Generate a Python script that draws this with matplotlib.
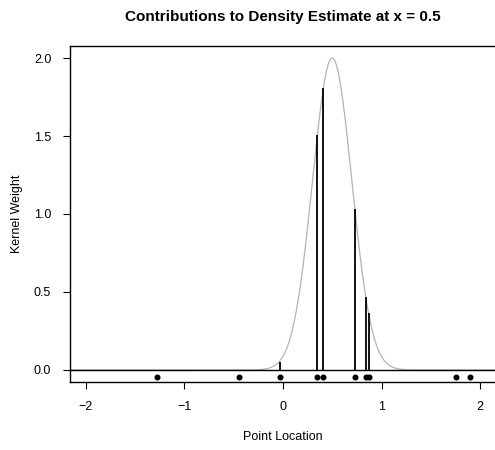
import numpy as np
import matplotlib
matplotlib.use("Agg")
import matplotlib.pyplot as plt

plt.rcParams['font.family'] = ['Liberation Sans', 'DejaVu Sans']

# Data
point_x = [-1.273, -0.447, -0.034, 0.350, 0.411, 0.734, 0.843, 0.873, 1.76, 1.90]
weights = [0.0, 0.0, 0.053, 1.506, 1.806, 1.03, 0.47, 0.363, 0.0, 0.0]
eval_at = 0.5
bandwidth = 0.1995
xticks = [-2, -1, 0, 1, 2]
yticks = [0.0, 0.5, 1.0, 1.5, 2.0]

fig = plt.figure(figsize=(4.95, 4.5), dpi=100)
ax = fig.add_axes([70/495, (450-382.3)/450, 425.5/495, 336.3/450])

grid = np.linspace(-2.5, 2.5, 1001)
kernel = np.exp(-0.5*((grid-eval_at)/bandwidth)**2)/(bandwidth*np.sqrt(2*np.pi))
ax.plot(grid, kernel, color='#b4b4b4', lw=0.9, zorder=1)

ax.axhline(0, color='black', lw=1.0, zorder=2)
ax.vlines(point_x, 0, weights, color='black', lw=1.3, zorder=3)
ax.scatter(point_x, [-0.043]*len(point_x), s=11, color='black', zorder=4)

ax.set_xlim(-2.159, 2.156)
ax.set_ylim(-0.079, 2.077)
ax.set_xticks(xticks)
ax.set_xticklabels(['\u22122', '\u22121', '0', '1', '2'])
ax.set_yticks(yticks)
ax.set_yticklabels([f'{v:.1f}' for v in yticks])
ax.tick_params(direction='out', length=5, width=0.8, labelsize=9, pad=8.5, colors='black')
ax.spines['right'].set_visible(False)
for s in ['left', 'top', 'bottom']:
    ax.spines[s].set_linewidth(1.0)

ax.set_xlabel('Point Location', fontsize=9, va='center')
ax.set_ylabel('Kernel Weight', fontsize=9, va='center')
ax.xaxis.set_label_coords((283-70)/425.5, -(437-382.3)/336.3)
ax.yaxis.set_label_coords(-(70-17)/425.5, (382.3-214)/336.3)
fig.text(283/495, 1-17/450, 'Contributions to Density Estimate at x = 0.5',
         ha='center', va='center', fontsize=11, fontweight='bold')

fig.savefig('out.png', dpi=100)
